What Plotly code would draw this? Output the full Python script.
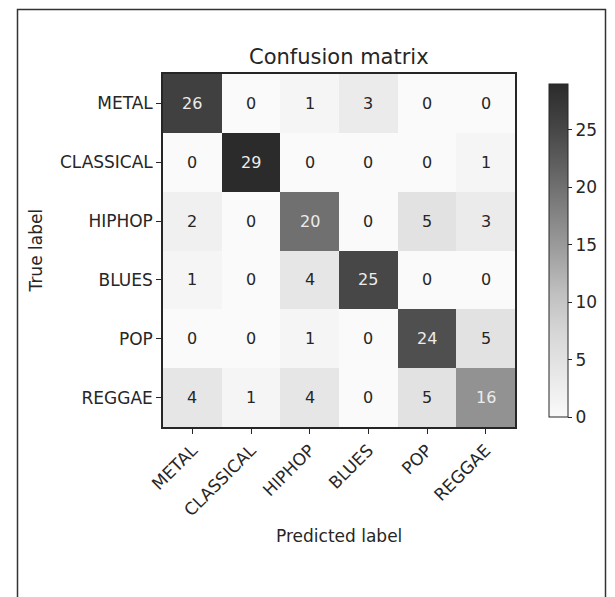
import plotly.graph_objects as go

labels = ["METAL", "CLASSICAL", "HIPHOP", "BLUES", "POP", "REGGAE"]
matrix = [
    [26, 0, 1, 3, 0, 0],
    [0, 29, 0, 0, 0, 1],
    [2, 0, 20, 0, 5, 3],
    [1, 0, 4, 25, 0, 0],
    [0, 0, 1, 0, 24, 5],
    [4, 1, 4, 0, 5, 16],
]
cbar_ticks = [0, 5, 10, 15, 20, 25]
title_text = "Confusion matrix"
x_title = "Predicted label"
y_title = "True label"

# grayscale version of matplotlib "Blues"
grey_levels = [250, 232, 215, 191, 158, 128, 97, 68, 43]
colorscale = [[i / (len(grey_levels) - 1), f"rgb({g},{g},{g})"] for i, g in enumerate(grey_levels)]

FONT = "DejaVu Sans"
DARK = "#262626"

OFF = 8  # page body margin offset
W, H = 615 - 2 * OFF, 597 - OFF
L, T = 163 - OFF, 74 - OFF
R = W - (515 - OFF)
B = H - (427 - OFF)
pw, ph = W - L - R, H - T - B


def px_x(p):
    return (p - OFF - L) / pw


def px_y(p):
    return (H - B - (p - OFF)) / ph


zmax = max(max(r) for r in matrix)

fig = go.Figure(go.Heatmap(
    z=matrix, x=labels, y=labels,
    colorscale=colorscale, zmin=0, zmax=zmax,
    xgap=0, ygap=0,
    colorbar=dict(
        x=px_x(549), xanchor="left", xpad=0,
        y=0.5, yanchor="middle", len=1.0, lenmode="fraction",
        thickness=19, thicknessmode="pixels",
        outlinewidth=1, outlinecolor=DARK,
        tickvals=cbar_ticks, ticks="outside", ticklen=4, tickcolor=DARK,
        tickfont=dict(family=FONT, size=17, color=DARK),
    ),
    hoverinfo="skip",
))

thresh = zmax / 2
for i, row in enumerate(matrix):
    for j, v in enumerate(row):
        fig.add_annotation(
            x=labels[j], y=labels[i], text=str(v), showarrow=False,
            font=dict(family=FONT, size=16, color="#ececec" if v > thresh else DARK),
        )

fig.add_annotation(xref="paper", yref="paper", x=0.5, y=px_y(57),
                   text=title_text, showarrow=False, xanchor="center", yanchor="middle",
                   font=dict(family=FONT, size=21, color=DARK))
fig.add_annotation(xref="paper", yref="paper", x=0.5, y=px_y(536),
                   text=x_title, showarrow=False, xanchor="center", yanchor="middle",
                   font=dict(family=FONT, size=17, color=DARK))
fig.add_annotation(xref="paper", yref="paper", x=px_x(35), y=0.5,
                   text=y_title, showarrow=False, textangle=-90, xanchor="center", yanchor="middle",
                   font=dict(family=FONT, size=17, color=DARK))

# outer frame
fig.add_shape(type="rect", xref="paper", yref="paper",
              x0=px_x(17.5), x1=px_x(605.5),
              y0=px_y(640), y1=px_y(9.5),
              line=dict(color="#333333", width=1.5), fillcolor="rgba(0,0,0,0)")

axis_common = dict(
    showline=True, linecolor=DARK, linewidth=1.5, mirror=True,
    ticks="outside", ticklen=5, tickcolor=DARK, tickwidth=1,
    tickfont=dict(family=FONT, size=17, color=DARK),
    showgrid=False, zeroline=False,
)
fig.update_xaxes(tickangle=-45, **axis_common)
fig.update_yaxes(autorange="reversed", **axis_common)

fig.update_layout(
    width=W, height=H,
    margin=dict(l=L, r=R, t=T, b=B, autoexpand=False),
    paper_bgcolor="white", plot_bgcolor="white",
    showlegend=False,
)

fig.write_html("out.html")
